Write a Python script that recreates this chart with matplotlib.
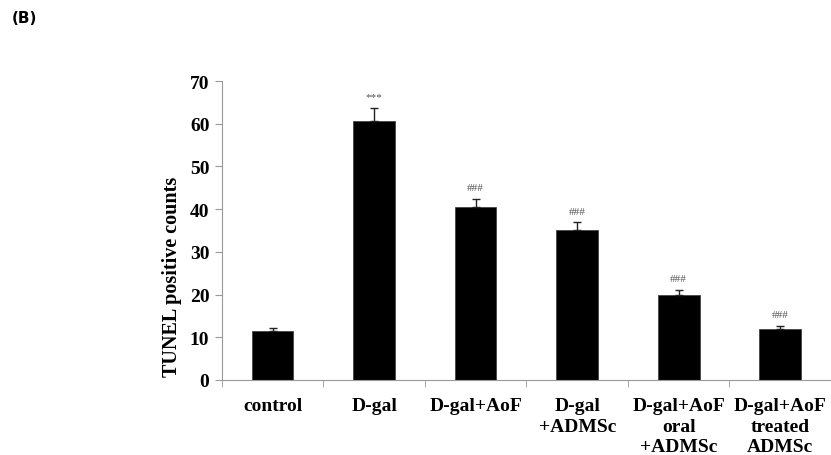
import numpy as np
import matplotlib.pyplot as plt

groups = ["control", "D-gal", "D-gal+AoF", "D-gal\n+ADMSc",
          "D-gal+AoF\noral\n+ADMSc", "D-gal+AoF\ntreated\nADMSc"]
means = [11.4, 60.7, 40.4, 35.2, 19.9, 11.9]
errors = [0.7, 3.0, 2.1, 1.7, 1.2, 0.7]
marks = ["", "***", "###", "###", "###", "###"]

plt.rcParams['font.family'] = ['Liberation Serif', 'DejaVu Serif']

fig = plt.figure(figsize=(8.31, 4.56), dpi=100)
ax = fig.add_axes([0.267, 0.1645, 0.733, 0.6555])

x = np.arange(len(groups))
ax.bar(x, means, width=0.41, color="black", edgecolor="#444444", linewidth=0.6,
       yerr=[np.zeros(len(errors)), errors], capsize=3,
       error_kw=dict(ecolor="#222222", elinewidth=1, capthick=1), zorder=2)

for xi, m, e, s in zip(x, means, errors, marks):
    if s:
        ax.text(xi, m + e + 1.6, s, ha="center", va="bottom", fontsize=8,
                color="#555555")

ax.set_xlim(-0.5, 5.47)
ax.set_ylim(0, 70)
ax.set_yticks(range(0, 71, 10))
ax.tick_params(axis="y", labelsize=14, length=5, color="#999999", pad=4)
for lab in ax.get_yticklabels():
    lab.set_fontweight("bold")

ax.set_xticks(x)
ax.set_xticklabels(groups, fontsize=14, fontweight="bold", linespacing=1.3)
ax.tick_params(axis="x", length=0, pad=12)
ax.set_xticks(np.arange(-0.5, 6, 1), minor=True)
ax.tick_params(axis="x", which="minor", length=5, color="#999999")

for side in ["top", "right"]:
    ax.spines[side].set_visible(False)
for side in ["left", "bottom"]:
    ax.spines[side].set_color("#999999")
    ax.spines[side].set_linewidth(0.8)

fig.text(172 / 831, 1 - 277 / 456, "TUNEL positive counts", fontsize=14.5,
         fontweight="bold", rotation=90, ha="center", va="center")

fig.text(0.014, 0.96, "(B)", fontsize=11, fontweight="bold", family="DejaVu Sans",
         ha="left", va="center")

fig.savefig("out.png", dpi=100)
